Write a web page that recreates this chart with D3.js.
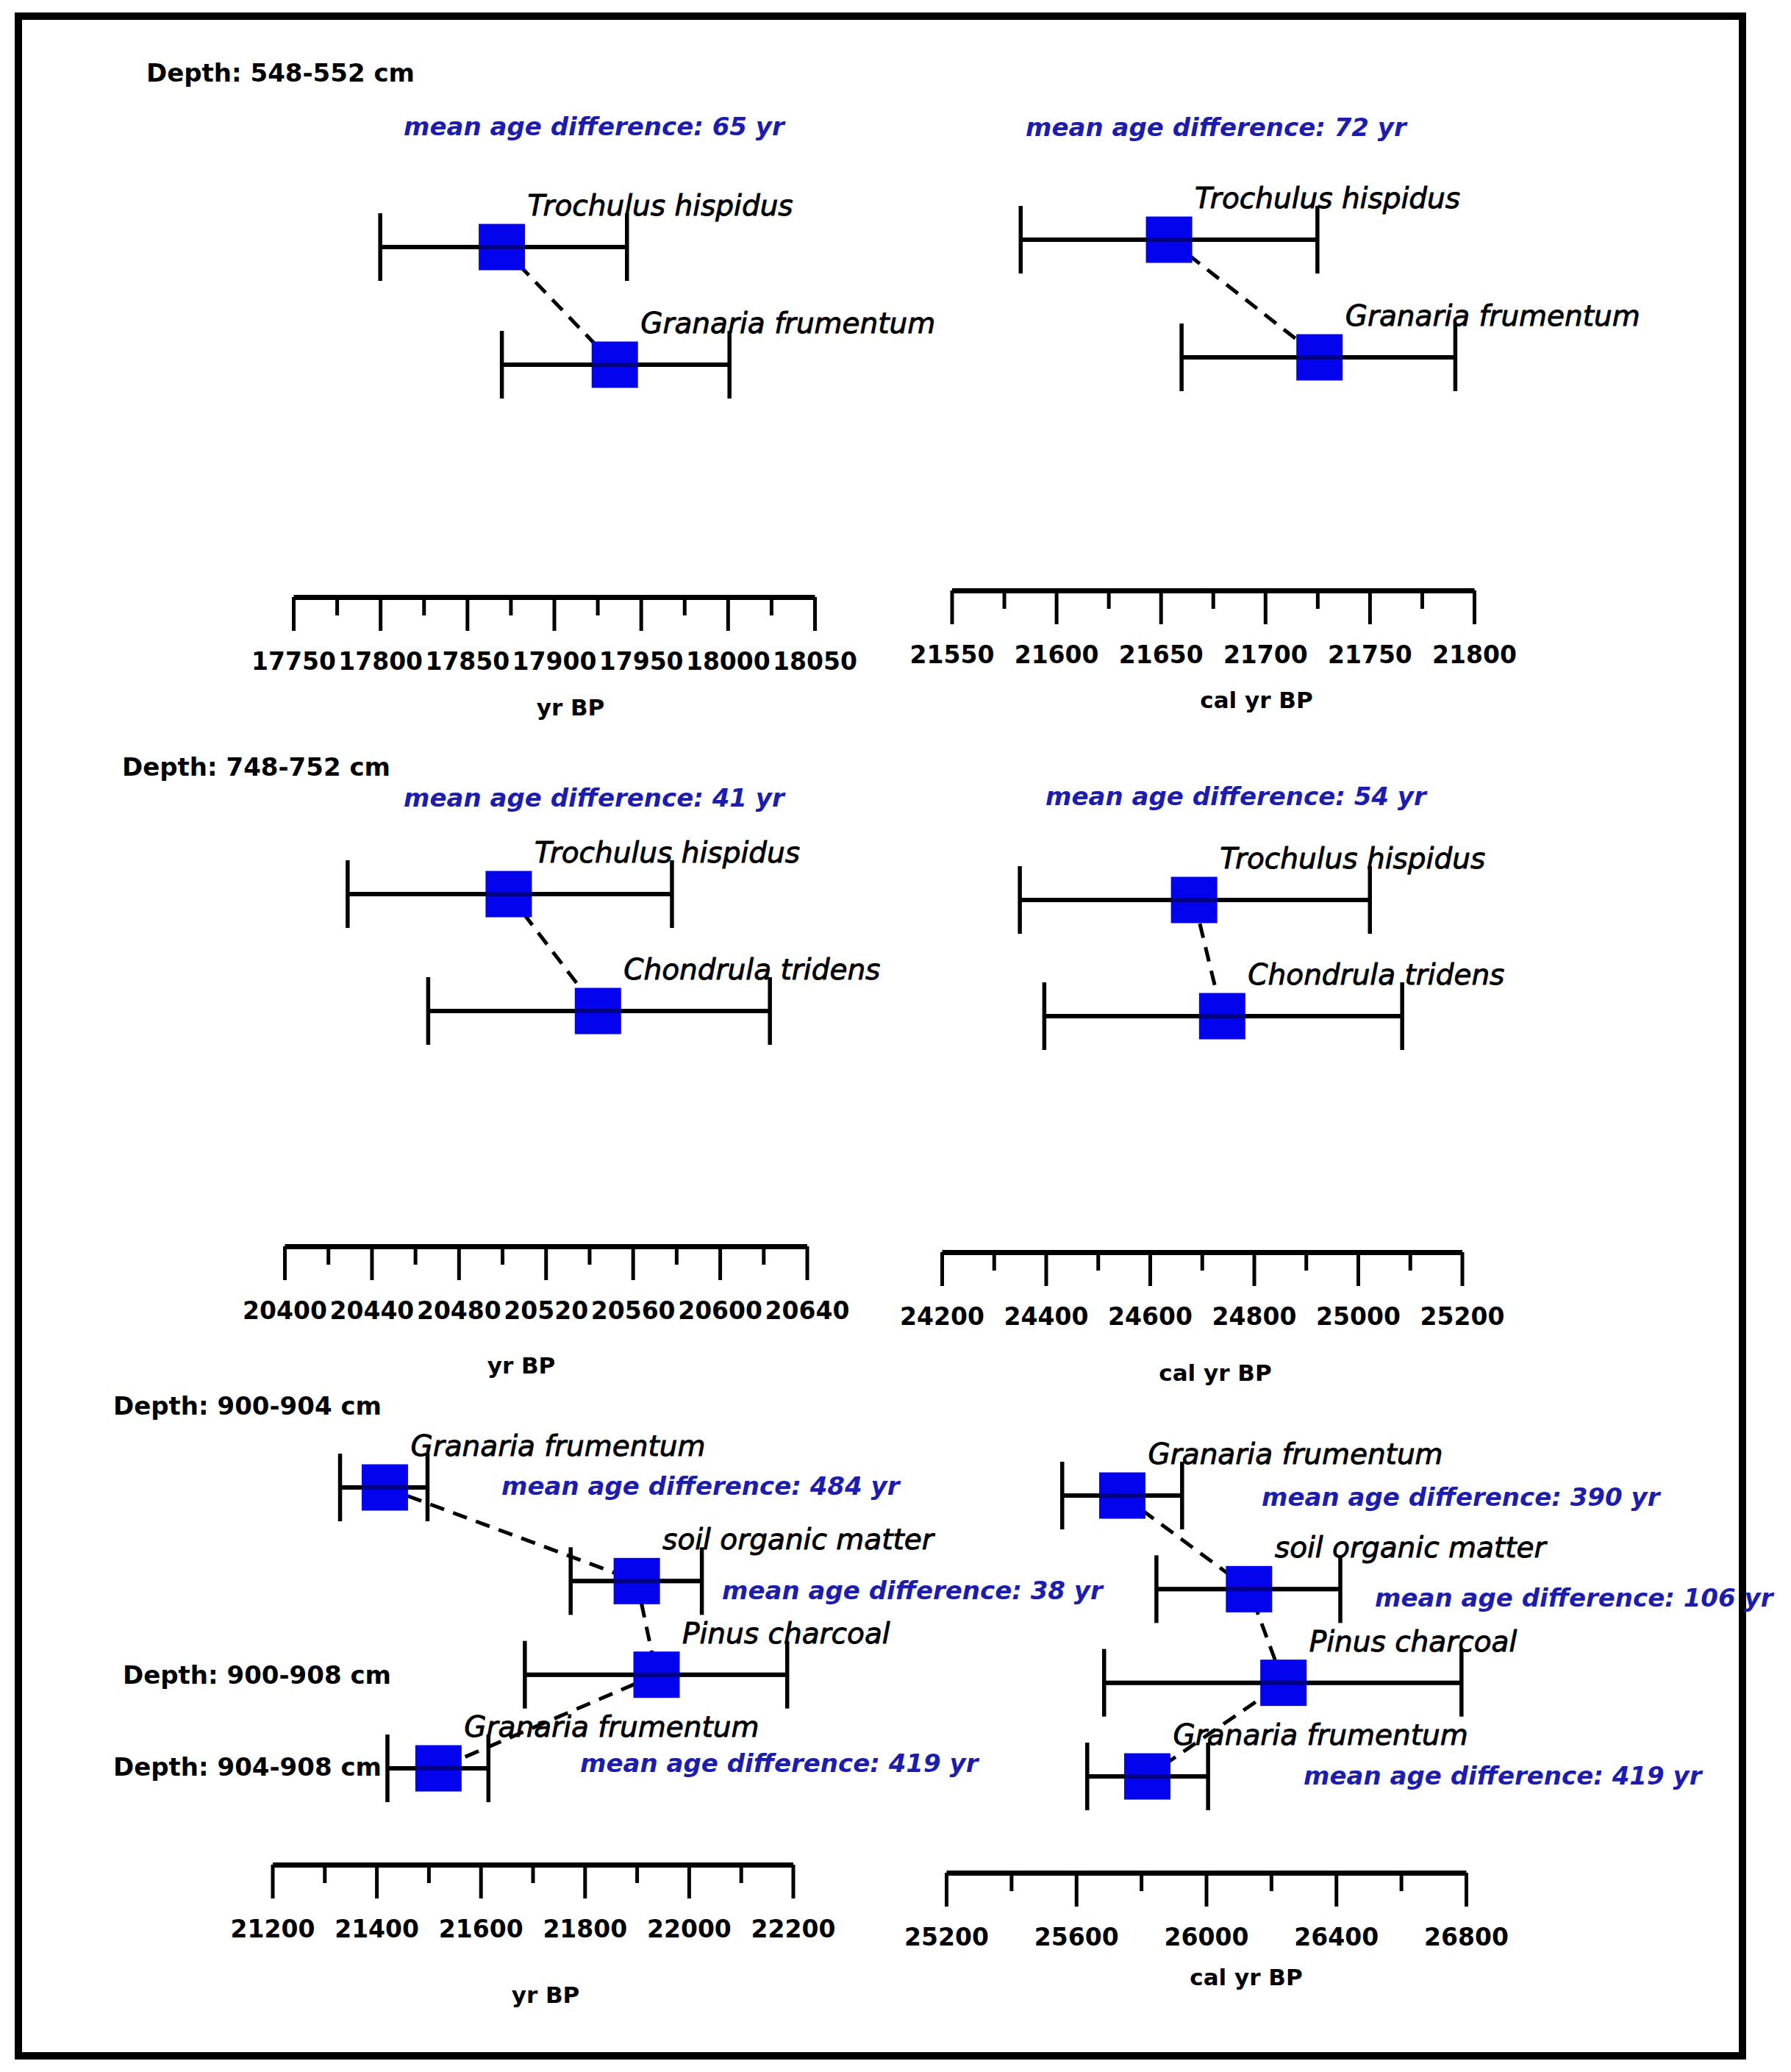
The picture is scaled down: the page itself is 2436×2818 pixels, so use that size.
<!DOCTYPE html>
<html>
<head>
<meta charset="utf-8">
<script src="https://cdn.jsdelivr.net/npm/d3@7"></script>
<style>
  body { margin: 0; background: #fff; }
  svg text { font-family: "DejaVu Sans", sans-serif; }
  .depth { font-size: 34px; font-weight: bold; fill: #000; }
  .diff { font-size: 34px; font-weight: bold; font-style: italic; fill: #1c1cb0; }
  .species { font-size: 39px; font-style: italic; fill: #000; stroke: #000; stroke-width: 0.9px; }
  .tick text { font-size: 33px; font-weight: bold; fill: #000; }
  .axis-title { font-size: 31px; font-weight: bold; fill: #000; }
</style>
</head>
<body>
<div id="chart"></div>
<script>
// ---- data ----
// Depth 548-552 cm, yr BP
var aSamples = ["Trochulus hispidus", "Granaria frumentum"];
var aMean = [17870, 17935];
var aLow = [17800, 17870];
var aHigh = [17942, 18001];
var aTicks = [17750, 17800, 17850, 17900, 17950, 18000, 18050];
var aMinor = [17775, 17825, 17875, 17925, 17975, 18025];
var aDiffs = ["mean age difference: 65 yr"];

// Depth 548-552 cm, cal yr BP
var bSamples = ["Trochulus hispidus", "Granaria frumentum"];
var bMean = [21654, 21726];
var bLow = [21583, 21660];
var bHigh = [21725, 21791];
var bTicks = [21550, 21600, 21650, 21700, 21750, 21800];
var bMinor = [21575, 21625, 21675, 21725, 21775];
var bDiffs = ["mean age difference: 72 yr"];

// Depth 748-752 cm, yr BP
var cSamples = ["Trochulus hispidus", "Chondrula tridens"];
var cMean = [20503, 20544];
var cLow = [20429, 20466];
var cHigh = [20578, 20623];
var cTicks = [20400, 20440, 20480, 20520, 20560, 20600, 20640];
var cMinor = [20420, 20460, 20500, 20540, 20580, 20620];
var cDiffs = ["mean age difference: 41 yr"];

// Depth 748-752 cm, cal yr BP
var dSamples = ["Trochulus hispidus", "Chondrula tridens"];
var dMean = [24685, 24739];
var dLow = [24350, 24397];
var dHigh = [25023, 25085];
var dTicks = [24200, 24400, 24600, 24800, 25000, 25200];
var dMinor = [24300, 24500, 24700, 24900, 25100];
var dDiffs = ["mean age difference: 54 yr"];

// Depth 900-908 cm, yr BP
var eSamples = ["Granaria frumentum", "soil organic matter", "Pinus charcoal", "Granaria frumentum"];
var eMean = [21416, 21900, 21938, 21519];
var eLow = [21330, 21773, 21685, 21421];
var eHigh = [21498, 22025, 22189, 21615];
var eTicks = [21200, 21400, 21600, 21800, 22000, 22200];
var eMinor = [21300, 21500, 21700, 21900, 22100];
var eDiffs = ["mean age difference: 484 yr", "mean age difference: 38 yr", "mean age difference: 419 yr"];

// Depth 900-908 cm, cal yr BP
var fSamples = ["Granaria frumentum", "soil organic matter", "Pinus charcoal", "Granaria frumentum"];
var fMean = [25742, 26132, 26238, 25819];
var fLow = [25557, 25847, 25686, 25634];
var fHigh = [25926, 26413, 26786, 26006];
var fTicks = [25200, 25600, 26000, 26400, 26800];
var fMinor = [25400, 25800, 26200, 26600];
var fDiffs = ["mean age difference: 390 yr", "mean age difference: 106 yr", "mean age difference: 419 yr"];

var depthLabels = ["Depth: 548-552 cm", "Depth: 748-752 cm", "Depth: 900-904 cm", "Depth: 900-908 cm", "Depth: 904-908 cm"];

// ---- layout ----
var svgWidth = 2436;
var svgHeight = 2818;

var panels = [
  { samples: aSamples, mean: aMean, low: aLow, high: aHigh, ticks: aTicks, minor: aMinor, diffs: aDiffs,
    x: [399, 1108], axisY: 812, rows: [336, 496], title: "yr BP", titlePos: [776, 973],
    diffPos: [[549, 184]] },
  { samples: bSamples, mean: bMean, low: bLow, high: bHigh, ticks: bTicks, minor: bMinor, diffs: bDiffs,
    x: [1294.5, 2005], axisY: 803, rows: [326, 486], title: "cal yr BP", titlePos: [1709, 963],
    diffPos: [[1395, 185]] },
  { samples: cSamples, mean: cMean, low: cLow, high: cHigh, ticks: cTicks, minor: cMinor, diffs: cDiffs,
    x: [387, 1097.5], axisY: 1695, rows: [1216, 1375], title: "yr BP", titlePos: [709, 1868],
    diffPos: [[549, 1097]] },
  { samples: dSamples, mean: dMean, low: dLow, high: dHigh, ticks: dTicks, minor: dMinor, diffs: dDiffs,
    x: [1281, 1988.5], axisY: 1703, rows: [1224, 1382], title: "cal yr BP", titlePos: [1653, 1878],
    diffPos: [[1422, 1095]] },
  { samples: eSamples, mean: eMean, low: eLow, high: eHigh, ticks: eTicks, minor: eMinor, diffs: eDiffs,
    x: [370.5, 1078.5], axisY: 2536, rows: [2023, 2405], title: "yr BP", titlePos: [742, 2724],
    diffPos: [[682, 2033], [982, 2175], [789, 2410]] },
  { samples: fSamples, mean: fMean, low: fLow, high: fHigh, ticks: fTicks, minor: fMinor, diffs: fDiffs,
    x: [1287, 1994], axisY: 2547, rows: [2034, 2416], title: "cal yr BP", titlePos: [1695, 2700],
    diffPos: [[1716, 2048], [1870, 2185], [1773, 2427]] }
];

var depthPos = [[199, 111], [166, 1055], [154, 1924], [167, 2290], [154, 2415]];

var boxSize = 63;
var capHalf = 46;

var svg = d3.select("#chart")
  .append("svg")
  .attr("width", svgWidth)
  .attr("height", svgHeight)
  .style("display", "block");

svg.append("rect")
  .attr("width", svgWidth)
  .attr("height", svgHeight)
  .attr("fill", "#fff");

// frame
svg.append("rect")
  .attr("x", 25)
  .attr("y", 22)
  .attr("width", 2345)
  .attr("height", 2774)
  .attr("fill", "none")
  .attr("stroke", "#000")
  .attr("stroke-width", 10);

panels.forEach(function(p) {
  var idx = d3.range(p.samples.length);

  var xScale = d3.scaleLinear()
    .domain([p.ticks[0], p.ticks[p.ticks.length - 1]])
    .range(p.x);

  var yScale = d3.scalePoint()
    .domain(idx)
    .range(p.rows);

  var g = svg.append("g");

  // minor ticks
  var minorAxis = g.append("g")
    .attr("transform", `translate(0, ${p.axisY})`)
    .call(d3.axisBottom(xScale).tickValues(p.minor).tickSize(25).tickSizeOuter(0).tickFormat(""));
  minorAxis.select(".domain").remove();
  minorAxis.selectAll(".tick line").attr("stroke-width", 5);

  // major ticks + labels
  var majorAxis = g.append("g")
    .attr("transform", `translate(0, ${p.axisY})`)
    .call(d3.axisBottom(xScale).tickValues(p.ticks).tickSize(46).tickSizeOuter(0)
      .tickPadding(30).tickFormat(d3.format("d")));
  majorAxis.select(".domain").attr("stroke-width", 7);
  majorAxis.selectAll(".tick line").attr("stroke-width", 5);
  majorAxis.attr("font-family", null).attr("font-size", null);

  g.append("text")
    .attr("class", "axis-title")
    .attr("x", p.titlePos[0])
    .attr("y", p.titlePos[1])
    .attr("text-anchor", "middle")
    .text(p.title);

  // dashed connectors between means
  var line = d3.line()
    .x(i => xScale(p.mean[i]))
    .y(i => yScale(i));

  g.append("path")
    .datum(idx)
    .attr("d", line)
    .attr("fill", "none")
    .attr("stroke", "#000")
    .attr("stroke-width", 5)
    .attr("stroke-dasharray", "20,13");

  // error bars
  var bars = g.selectAll(".bar")
    .data(idx)
    .enter()
    .append("g")
    .attr("class", "bar");

  bars.append("line")
    .attr("x1", i => xScale(p.low[i]))
    .attr("x2", i => xScale(p.high[i]))
    .attr("y1", i => yScale(i))
    .attr("y2", i => yScale(i))
    .attr("stroke", "#000")
    .attr("stroke-width", 6);

  bars.append("line")
    .attr("x1", i => xScale(p.low[i]))
    .attr("x2", i => xScale(p.low[i]))
    .attr("y1", i => yScale(i) - capHalf)
    .attr("y2", i => yScale(i) + capHalf)
    .attr("stroke", "#000")
    .attr("stroke-width", 5.5);

  bars.append("line")
    .attr("x1", i => xScale(p.high[i]))
    .attr("x2", i => xScale(p.high[i]))
    .attr("y1", i => yScale(i) - capHalf)
    .attr("y2", i => yScale(i) + capHalf)
    .attr("stroke", "#000")
    .attr("stroke-width", 5.5);

  bars.append("rect")
    .attr("x", i => xScale(p.mean[i]) - boxSize / 2)
    .attr("y", i => yScale(i) - boxSize / 2)
    .attr("width", boxSize)
    .attr("height", boxSize)
    .attr("fill", "#0303ee");

  // line shows through the square
  bars.append("line")
    .attr("x1", i => xScale(p.low[i]))
    .attr("x2", i => xScale(p.high[i]))
    .attr("y1", i => yScale(i))
    .attr("y2", i => yScale(i))
    .attr("stroke", "#000")
    .attr("stroke-opacity", 0.45)
    .attr("stroke-width", 6);

  g.selectAll(".species")
    .data(idx)
    .enter()
    .append("text")
    .attr("class", "species")
    .attr("x", i => xScale(p.mean[i]) + 35)
    .attr("y", i => yScale(i) - 43)
    .text(i => p.samples[i]);

  g.selectAll(".diff")
    .data(p.diffs)
    .enter()
    .append("text")
    .attr("class", "diff")
    .attr("x", (d, i) => p.diffPos[i][0])
    .attr("y", (d, i) => p.diffPos[i][1])
    .text(d => d);
});

svg.selectAll(".depth")
  .data(depthLabels)
  .enter()
  .append("text")
  .attr("class", "depth")
  .attr("x", (d, i) => depthPos[i][0])
  .attr("y", (d, i) => depthPos[i][1])
  .text(d => d);
</script>
</body>
</html>
